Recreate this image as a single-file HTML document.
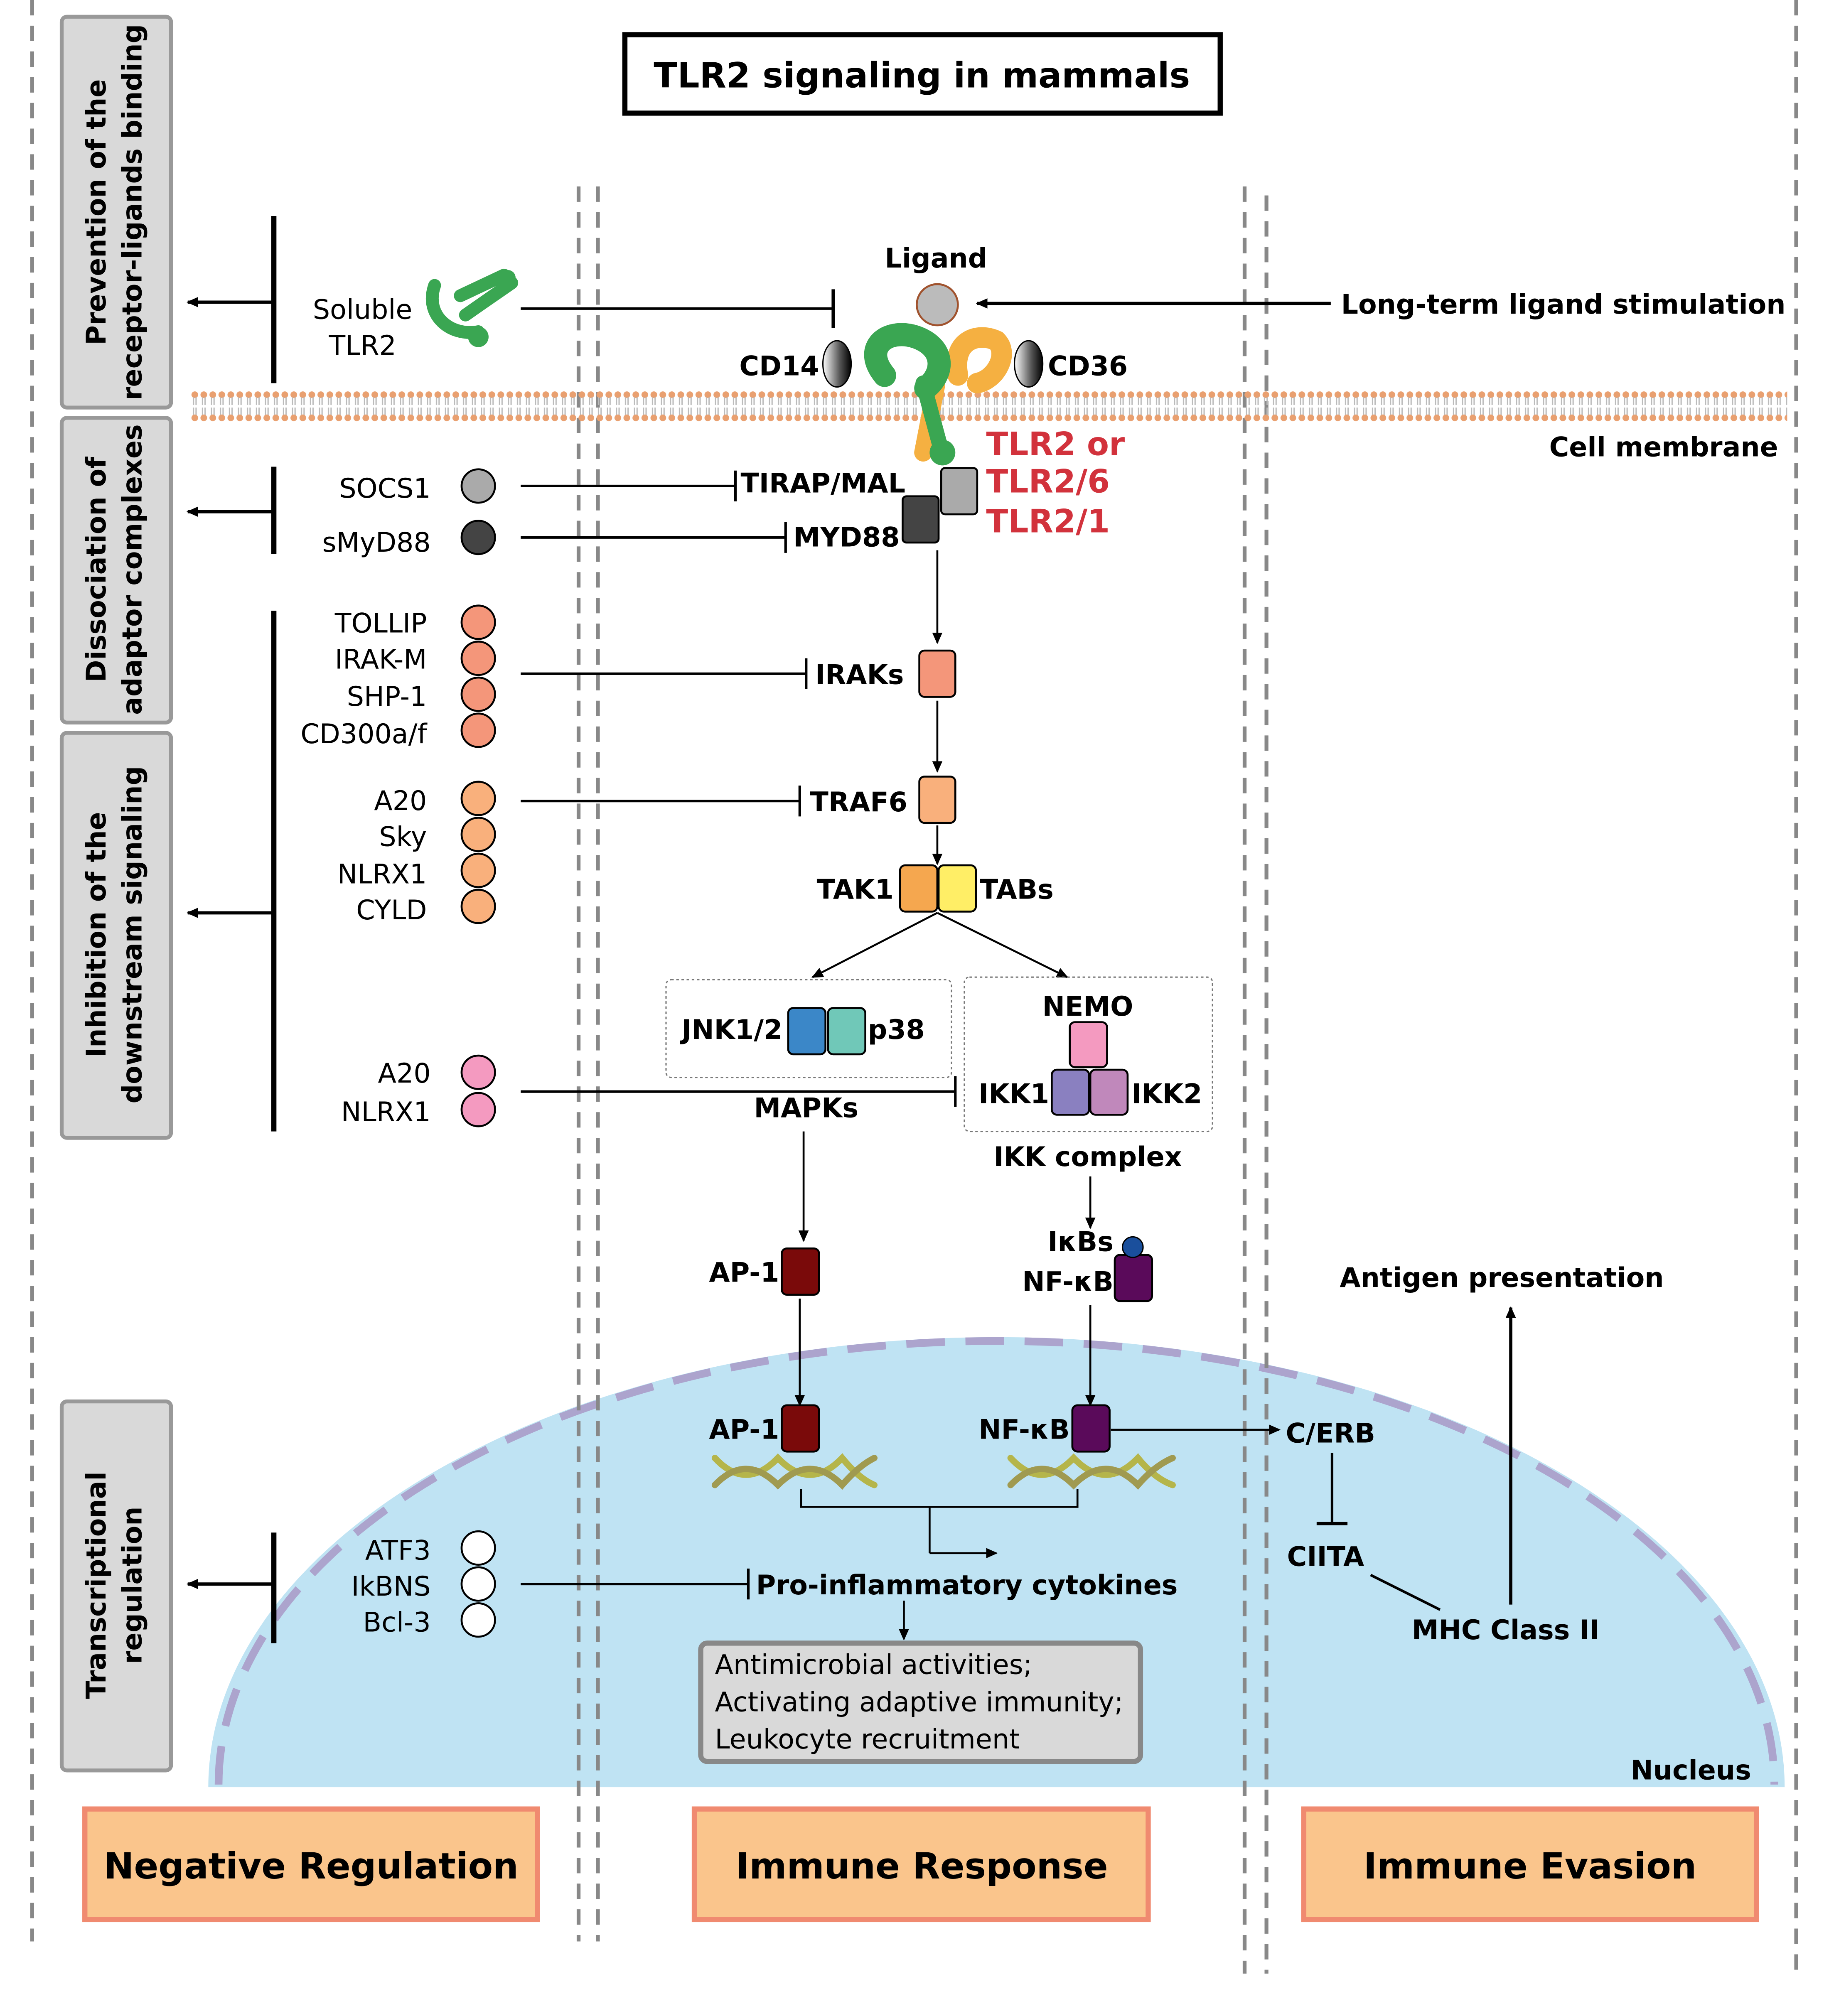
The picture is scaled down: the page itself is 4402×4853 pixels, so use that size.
<!DOCTYPE html>
<html><head><meta charset="utf-8"><style>
html,body{margin:0;padding:0;background:#fff}
svg{display:block}
text{font-family:"DejaVu Sans","Liberation Sans",sans-serif;font-size:21px;fill:#000}
.b{font-weight:bold}
</style></head><body>
<svg width="4402" height="4853" viewBox="0 0 1422.5 1568" preserveAspectRatio="none" xmlns="http://www.w3.org/2000/svg">
<defs>
<marker id="ah" markerWidth="10" markerHeight="10" refX="8" refY="5" orient="auto" markerUnits="userSpaceOnUse"><path d="M0,1 L9,5 L0,9 Z" fill="#000"/></marker>
<pattern id="mem" x="148" y="304" width="7" height="24" patternUnits="userSpaceOnUse">
<circle cx="3.5" cy="3" r="2.6" fill="#e9a070"/>
<line x1="2.5" y1="5" x2="2.5" y2="11" stroke="#bbb" stroke-width="1"/><line x1="4.5" y1="5" x2="4.5" y2="11" stroke="#bbb" stroke-width="1"/>
<line x1="2.5" y1="13" x2="2.5" y2="19" stroke="#bbb" stroke-width="1"/><line x1="4.5" y1="13" x2="4.5" y2="19" stroke="#bbb" stroke-width="1"/>
<circle cx="3.5" cy="21" r="2.6" fill="#e9a070"/>
</pattern>
<linearGradient id="cdg" x1="0" x2="1"><stop offset="0" stop-color="#fff"/><stop offset="0.6" stop-color="#555"/><stop offset="1" stop-color="#000"/></linearGradient>
</defs>

<path d="M162,1390 A613,350 0 0 1 1388,1390 Z" fill="#bfe3f3"/>
<path d="M170,1388 A605,345 0 0 1 1380,1388" fill="none" stroke="#aca4cd" stroke-width="6" stroke-dasharray="30,16"/>
<text x="1362" y="1384" text-anchor="end" class="b">Nucleus</text>

<g stroke="#888" stroke-width="3" stroke-dasharray="12,8">
<line x1="25" y1="0" x2="25" y2="1510"/>
<line x1="450" y1="145" x2="450" y2="1510"/>
<line x1="465" y1="145" x2="465" y2="1510"/>
<line x1="968" y1="145" x2="968" y2="1535"/>
<line x1="985" y1="152" x2="985" y2="1535"/>
<line x1="1397" y1="0" x2="1397" y2="1540"/>
</g>

<rect x="148" y="304" width="1242" height="24" fill="url(#mem)"/>
<text x="1383" y="355" text-anchor="end" class="b">Cell membrane</text>

<rect x="486" y="27" width="463" height="61" fill="#fff" stroke="#000" stroke-width="4"/>
<text x="717" y="68" text-anchor="middle" class="b" style="font-size:27px">TLR2 signaling in mammals</text>

<g fill="#d9d9d9" stroke="#999" stroke-width="3">
<rect x="48" y="13" width="85" height="304" rx="4"/>
<rect x="48" y="325" width="85" height="237" rx="4"/>
<rect x="48" y="570" width="85" height="315" rx="4"/>
<rect x="48" y="1090" width="85" height="287" rx="4"/>
</g>
<text transform="translate(82,165) rotate(-90)" text-anchor="middle" class="b">Prevention of the</text>
<text transform="translate(110,165) rotate(-90)" text-anchor="middle" class="b">receptor-ligands binding</text>
<text transform="translate(82,443) rotate(-90)" text-anchor="middle" class="b">Dissociation of</text>
<text transform="translate(110,443) rotate(-90)" text-anchor="middle" class="b">adaptor complexes</text>
<text transform="translate(82,727) rotate(-90)" text-anchor="middle" class="b">Inhibition of the</text>
<text transform="translate(110,727) rotate(-90)" text-anchor="middle" class="b">downstream signaling</text>
<text transform="translate(82,1233) rotate(-90)" text-anchor="middle" class="b">Transcriptional</text>
<text transform="translate(110,1233) rotate(-90)" text-anchor="middle" class="b">regulation</text>

<g stroke="#000" stroke-width="4">
<line x1="213" y1="168" x2="213" y2="298"/>
<line x1="213" y1="363" x2="213" y2="431"/>
<line x1="213" y1="475" x2="213" y2="880"/>
<line x1="213" y1="1192" x2="213" y2="1278"/>
</g>
<g stroke="#000" stroke-width="2.5" marker-end="url(#ah)">
<line x1="213" y1="235" x2="146" y2="235"/>
<line x1="213" y1="398" x2="146" y2="398"/>
<line x1="213" y1="710" x2="146" y2="710"/>
<line x1="213" y1="1232" x2="146" y2="1232"/>
</g>

<text x="282" y="248" text-anchor="middle">Soluble</text>
<text x="282" y="276" text-anchor="middle">TLR2</text>
<g fill="none" stroke="#3aa652" stroke-width="10" stroke-linecap="round">
<path d="M338,222 C330,245 350,262 372,258"/>
<path d="M358,230 L392,214"/>
<path d="M362,245 L398,220"/>
</g>
<circle cx="395" cy="216" r="6" fill="#3aa652"/>
<circle cx="372" cy="262" r="8" fill="#3aa652"/>
<line x1="405" y1="240" x2="648" y2="240" stroke="#000" stroke-width="2"/>
<line x1="648" y1="225" x2="648" y2="255" stroke="#000" stroke-width="2.5"/>

<text x="728" y="208" text-anchor="middle" class="b">Ligand</text>
<circle cx="729" cy="237" r="16" fill="#bbb" stroke="#a0522d" stroke-width="1.5"/>
<line x1="1035" y1="236" x2="760" y2="236" stroke="#000" stroke-width="2.5" marker-end="url(#ah)"/>
<text x="1043" y="244" class="b">Long-term ligand stimulation</text>
<text x="575" y="292" class="b">CD14</text>
<ellipse cx="651" cy="283" rx="11" ry="18" fill="url(#cdg)" stroke="#000"/>
<ellipse cx="800" cy="283" rx="11" ry="18" fill="url(#cdg)" stroke="#000"/>
<text x="815" y="292" class="b">CD36</text>
<path d="M745,292 C740,265 760,258 775,265 C785,275 775,295 760,298" fill="none" stroke="#f5b041" stroke-width="16" stroke-linecap="round"/>
<path d="M728,300 L718,352" stroke="#f5b041" stroke-width="14" stroke-linecap="round"/>
<path d="M688,292 C670,270 690,255 712,262 C735,270 735,290 720,302" fill="none" stroke="#3aa652" stroke-width="18" stroke-linecap="round"/>
<path d="M718,298 L732,350" stroke="#3aa652" stroke-width="12" stroke-linecap="round"/>
<circle cx="733" cy="352" r="10" fill="#3aa652"/>
<text x="767" y="354" class="b" style="font-size:25px;fill:#d2323c">TLR2 or</text>
<text x="767" y="383" class="b" style="font-size:25px;fill:#d2323c">TLR2/6</text>
<text x="767" y="414" class="b" style="font-size:25px;fill:#d2323c">TLR2/1</text>

<text x="335" y="387" text-anchor="end">SOCS1</text>
<circle cx="372" cy="378" r="13" fill="#aaa" stroke="#000" stroke-width="1.5"/>
<text x="335" y="429" text-anchor="end">sMyD88</text>
<circle cx="372" cy="418" r="13" fill="#444" stroke="#000" stroke-width="1.5"/>
<g stroke="#000" stroke-width="2">
<line x1="405" y1="378" x2="572" y2="378"/><line x1="572" y1="366" x2="572" y2="390"/>
<line x1="405" y1="418" x2="611" y2="418"/><line x1="611" y1="406" x2="611" y2="430"/>
</g>
<text x="576" y="383" class="b">TIRAP/MAL</text>
<text x="617" y="425" class="b">MYD88</text>
<rect x="732" y="364" width="28" height="36" rx="3" fill="#aaa" stroke="#000" stroke-width="1.5"/>
<rect x="702" y="386" width="28" height="36" rx="3" fill="#444" stroke="#000" stroke-width="1.5"/>

<g text-anchor="end">
<text x="332" y="492">TOLLIP</text><text x="332" y="520">IRAK-M</text><text x="332" y="549">SHP-1</text><text x="332" y="578">CD300a/f</text>
<text x="332" y="630">A20</text><text x="332" y="658">Sky</text><text x="332" y="687">NLRX1</text><text x="332" y="715">CYLD</text>
<text x="335" y="842">A20</text><text x="335" y="872">NLRX1</text>
<text x="335" y="1213">ATF3</text><text x="335" y="1241">IkBNS</text><text x="335" y="1269">Bcl-3</text>
</g>
<g stroke="#000" stroke-width="1.5">
<circle cx="372" cy="484" r="13" fill="#f4967a"/><circle cx="372" cy="512" r="13" fill="#f4967a"/><circle cx="372" cy="540" r="13" fill="#f4967a"/><circle cx="372" cy="568" r="13" fill="#f4967a"/>
<circle cx="372" cy="621" r="13" fill="#f9b07c"/><circle cx="372" cy="649" r="13" fill="#f9b07c"/><circle cx="372" cy="677" r="13" fill="#f9b07c"/><circle cx="372" cy="705" r="13" fill="#f9b07c"/>
<circle cx="372" cy="834" r="13" fill="#f49ac0"/><circle cx="372" cy="863" r="13" fill="#f49ac0"/>
<circle cx="372" cy="1204" r="13" fill="#fff"/><circle cx="372" cy="1232" r="13" fill="#fff"/><circle cx="372" cy="1260" r="13" fill="#fff"/>
</g>
<g stroke="#000" stroke-width="2">
<line x1="405" y1="524" x2="627" y2="524"/><line x1="627" y1="512" x2="627" y2="536"/>
<line x1="405" y1="623" x2="622" y2="623"/><line x1="622" y1="611" x2="622" y2="635"/>
<line x1="405" y1="849" x2="743" y2="849"/><line x1="743" y1="837" x2="743" y2="861"/>
<line x1="405" y1="1232" x2="582" y2="1232"/><line x1="582" y1="1220" x2="582" y2="1244"/>
</g>
<text x="634" y="532" class="b">IRAKs</text>
<rect x="715" y="506" width="28" height="36" rx="4" fill="#f4967a" stroke="#000" stroke-width="1.5"/>
<text x="630" y="631" class="b">TRAF6</text>
<rect x="715" y="604" width="28" height="36" rx="4" fill="#f9b07c" stroke="#000" stroke-width="1.5"/>

<g stroke="#000" stroke-width="1.5" marker-end="url(#ah)">
<line x1="729" y1="428" x2="729" y2="500"/>
<line x1="729" y1="545" x2="729" y2="600"/>
<line x1="729" y1="642" x2="729" y2="672"/>
<line x1="729" y1="710" x2="632" y2="760"/>
<line x1="729" y1="710" x2="830" y2="760"/>
<line x1="625" y1="880" x2="625" y2="965"/>
<line x1="622" y1="1010" x2="622" y2="1093"/>
<line x1="848" y1="915" x2="848" y2="955"/>
<line x1="848" y1="1015" x2="848" y2="1093"/>
<line x1="703" y1="1245" x2="703" y2="1275"/>
<line x1="723" y1="1208" x2="775" y2="1208"/>
<line x1="864" y1="1112" x2="995" y2="1112"/>
</g>

<text x="695" y="699" text-anchor="end" class="b">TAK1</text>
<rect x="700" y="673" width="29" height="36" rx="4" fill="#f5a74f" stroke="#000" stroke-width="1.5"/>
<rect x="730" y="673" width="29" height="36" rx="4" fill="#ffee66" stroke="#000" stroke-width="1.5"/>
<text x="762" y="699" class="b">TABs</text>

<rect x="518" y="762" width="222" height="76" rx="4" fill="none" stroke="#777" stroke-width="1" stroke-dasharray="2,2"/>
<text x="530" y="808" class="b">JNK1/2</text>
<rect x="613" y="784" width="29" height="36" rx="4" fill="#3b87c8" stroke="#000" stroke-width="1.5"/>
<rect x="644" y="784" width="29" height="36" rx="4" fill="#70c8b8" stroke="#000" stroke-width="1.5"/>
<text x="675" y="808" class="b">p38</text>
<text x="627" y="869" text-anchor="middle" class="b">MAPKs</text>

<rect x="750" y="760" width="193" height="120" rx="4" fill="none" stroke="#777" stroke-width="1" stroke-dasharray="2,2"/>
<text x="846" y="790" text-anchor="middle" class="b">NEMO</text>
<rect x="832" y="795" width="29" height="35" rx="4" fill="#f49ac0" stroke="#000" stroke-width="1.5"/>
<rect x="818" y="832" width="29" height="35" rx="4" fill="#8a80c0" stroke="#000" stroke-width="1.5"/>
<rect x="848" y="832" width="29" height="35" rx="4" fill="#c088bb" stroke="#000" stroke-width="1.5"/>
<text x="816" y="858" text-anchor="end" class="b">IKK1</text>
<text x="880" y="858" class="b">IKK2</text>
<text x="846" y="907" text-anchor="middle" class="b">IKK complex</text>

<text x="606" y="997" text-anchor="end" class="b">AP-1</text>
<rect x="608" y="971" width="29" height="36" rx="4" fill="#7a0a0a" stroke="#000" stroke-width="1.5"/>
<text x="866" y="973" text-anchor="end" class="b">IκBs</text>
<text x="866" y="1004" text-anchor="end" class="b">NF-κB</text>
<rect x="867" y="976" width="29" height="36" rx="4" fill="#5a0a5a" stroke="#000" stroke-width="1.5"/>
<circle cx="881" cy="970" r="8" fill="#1a4f9c" stroke="#000"/>
<text x="606" y="1119" text-anchor="end" class="b">AP-1</text>
<rect x="608" y="1093" width="29" height="36" rx="4" fill="#7a0a0a" stroke="#000" stroke-width="1.5"/>
<text x="832" y="1119" text-anchor="end" class="b">NF-κB</text>
<rect x="834" y="1093" width="29" height="36" rx="4" fill="#5a0a5a" stroke="#000" stroke-width="1.5"/>

<g fill="none" stroke-width="5" stroke-linecap="round">
<path d="M556,1134 Q580,1160 605,1134 Q630,1160 655,1134 Q668,1150 680,1155" stroke="#b5b54a"/>
<path d="M556,1155 Q580,1130 605,1155 Q630,1130 655,1155 Q668,1140 680,1134" stroke="#a09a50"/>
<path d="M786,1134 Q810,1160 835,1134 Q860,1160 885,1134 Q898,1150 912,1155" stroke="#b5b54a"/>
<path d="M786,1155 Q810,1130 835,1155 Q860,1130 885,1155 Q898,1140 912,1134" stroke="#a09a50"/>
</g>
<path d="M623,1158 V1172 H838 V1158 M723,1172 V1208" fill="none" stroke="#000" stroke-width="1.5"/>

<text x="588" y="1240" class="b">Pro-inflammatory cytokines</text>
<rect x="545" y="1278" width="342" height="92" rx="5" fill="#d9d9d9" stroke="#888" stroke-width="4"/>
<text x="556" y="1302">Antimicrobial activities;</text>
<text x="556" y="1331">Activating adaptive immunity;</text>
<text x="556" y="1360">Leukocyte recruitment</text>

<text x="1000" y="1122" class="b">C/ERB</text>
<line x1="1036" y1="1130" x2="1036" y2="1185" stroke="#000" stroke-width="2"/>
<line x1="1024" y1="1185" x2="1048" y2="1185" stroke="#000" stroke-width="2.5"/>
<text x="1001" y="1218" class="b">CIITA</text>
<line x1="1066" y1="1225" x2="1120" y2="1252" stroke="#000" stroke-width="2"/>
<text x="1098" y="1275" class="b">MHC Class II</text>
<line x1="1175" y1="1248" x2="1175" y2="1017" stroke="#000" stroke-width="2.5" marker-end="url(#ah)"/>
<text x="1168" y="1001" text-anchor="middle" class="b">Antigen presentation</text>

<g fill="#fac58c" stroke="#f08a70" stroke-width="4">
<rect x="66" y="1407" width="352" height="86"/>
<rect x="540" y="1407" width="353" height="86"/>
<rect x="1014" y="1407" width="352" height="86"/>
</g>
<text x="242" y="1461" text-anchor="middle" class="b" style="font-size:28px">Negative Regulation</text>
<text x="717" y="1461" text-anchor="middle" class="b" style="font-size:28px">Immune Response</text>
<text x="1190" y="1461" text-anchor="middle" class="b" style="font-size:28px">Immune Evasion</text>
</svg>
</body></html>
